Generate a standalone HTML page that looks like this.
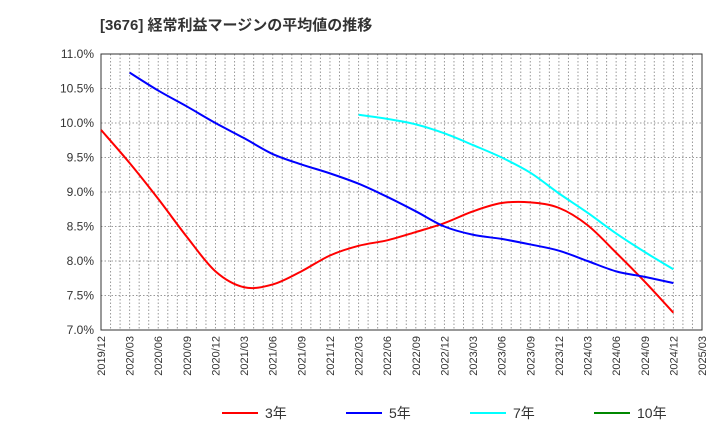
<!DOCTYPE html>
<html><head><meta charset="utf-8"><style>
body{margin:0;background:#fff;font-family:"Liberation Sans","Noto Sans CJK JP",sans-serif}
</style></head><body>
<svg id="c" width="720" height="440" style="font-family:'Liberation Sans','Noto Sans CJK JP',sans-serif">
<text x="100" y="30" font-size="15" font-weight="bold" fill="#333">[3676]  経常利益マージンの平均値の推移</text>
</svg>
<script>
const xLabels=["2019/12","2020/03","2020/06","2020/09","2020/12","2021/03","2021/06","2021/09","2021/12","2022/03","2022/06","2022/09","2022/12","2023/03","2023/06","2023/09","2023/12","2024/03","2024/06","2024/09","2024/12","2025/03"];
const yTicks=[7.0,7.5,8.0,8.5,9.0,9.5,10.0,10.5,11.0];
const s3=[9.9,9.42,8.9,8.35,7.85,7.62,7.66,7.85,8.08,8.22,8.3,8.42,8.55,8.72,8.84,8.85,8.77,8.52,8.12,7.7,7.25];
const s5=[null,10.73,10.47,10.24,10.0,9.78,9.55,9.4,9.27,9.12,8.93,8.72,8.5,8.38,8.32,8.24,8.15,8.0,7.85,7.77,7.68];
const s7=[null,null,null,null,null,null,null,null,null,10.12,10.06,9.98,9.85,9.68,9.5,9.28,8.98,8.7,8.4,8.13,7.88];
const s10=[];
const L=101,R=702,T=54,B=330,NS="http://www.w3.org/2000/svg";
const svg=document.getElementById('c');
const X=i=>L+i*3*(R-L)/63, Y=v=>B-(v-7)/4*(B-T);
function mk(t,a,p){const e=document.createElementNS(NS,t);for(const k in a)e.setAttribute(k,a[k]);(p||svg).appendChild(e);return e;}
for(let m=1;m<63;m++){const x=L+m*(R-L)/63;const g=mk('line',{x1:x,x2:x,y1:T,y2:B,stroke:'#999','stroke-dasharray':'1.5,2','stroke-width':1});

}
yTicks.forEach(v=>{const y=Y(v);const g=mk('line',{x1:L,x2:R,y1:y,y2:y,stroke:'#999','stroke-dasharray':'1.5,2'});


const t=mk('text',{x:L-7,y:y+4,'text-anchor':'end','font-size':12,fill:'#333'});t.textContent=v.toFixed(1)+'%';

});
const fr=mk('rect',{x:L,y:T,width:R-L,height:B-T,fill:'none',stroke:'#333'});


xLabels.forEach((l,i)=>{const x=X(i);const t=mk('text',{transform:`translate(${x+4},${B+6}) rotate(-90)`,'text-anchor':'end','font-size':11,fill:'#333'});t.textContent=l;

});
function path(arr){const p=[];arr.forEach((v,i)=>{if(v!=null)p.push([X(i),Y(v)])});if(p.length<2)return '';
let d=`M${p[0][0]},${p[0][1]}`;for(let i=0;i<p.length-1;i++){const p0=p[i-1]||p[i],p1=p[i],p2=p[i+1],p3=p[i+2]||p2;
d+=` C${p1[0]+(p2[0]-p0[0])/6},${p1[1]+(p2[1]-p0[1])/6} ${p2[0]-(p3[0]-p1[0])/6},${p2[1]-(p3[1]-p1[1])/6} ${p2[0]},${p2[1]}`;}return d;}
[[s3,'#f00','series-3y'],[s5,'#00f','series-5y'],[s7,'#0ff','series-7y'],[s10,'#080','series-10y']].forEach(([a,c,n])=>{const d=path(a);if(!d)return;const e=mk('path',{d:d,fill:'none',stroke:c,'stroke-width':2});

});
const leg=[['3年','#f00',222],['5年','#00f',346],['7年','#0ff',470],['10年','#080',594]];
leg.forEach(([t,c,x])=>{const g=mk('g',{});


mk('line',{x1:x,x2:x+36,y1:413,y2:413,stroke:c,'stroke-width':2},g);const tx=mk('text',{x:x+43,y:418,'font-size':14,fill:'#333'},g);tx.textContent=t;});
</script>
</body></html>
